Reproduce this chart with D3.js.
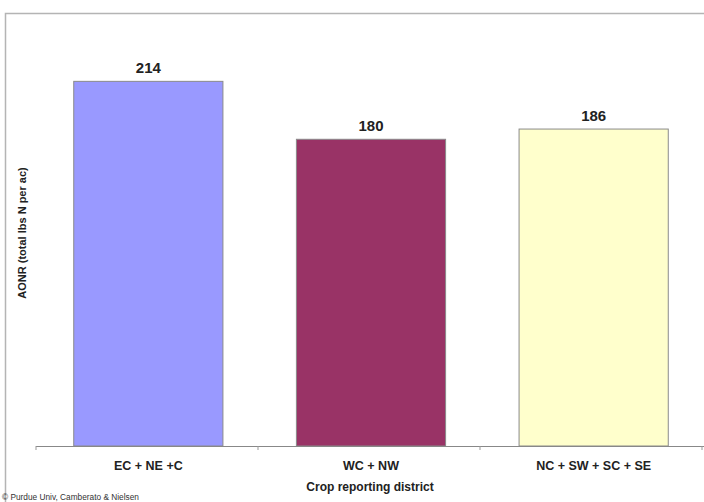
<!DOCTYPE html>
<html>
<head>
<meta charset="utf-8">
<script src="https://cdn.jsdelivr.net/npm/d3@7"></script>
<style>
  html, body { margin: 0; padding: 0; background: #fff; }
  svg { display: block; font-family: "Liberation Sans", Arial, sans-serif; }
</style>
</head>
<body>
<svg id="chart" width="704" height="502"></svg>
<script>
// Economic optimum N rate by grouped crop reporting districts
const districts = ["EC + NE +C", "WC + NW", "NC + SW + SC + SE"];
const aonr = [214, 180, 186];
const barColors = ["#9999FF", "#993366", "#FFFFCC"];
const yDomain = [0, 250];

const svg = d3.select("#chart");

// outer chart frame
svg.append("rect")
  .attr("x", 5.5).attr("y", 13.5)
  .attr("width", 720).attr("height", 520)
  .attr("fill", "none").attr("stroke", "#b4b4b4").attr("stroke-width", 1.5);

const plot = { left: 36, right: 704, top: 20, bottom: 446 };

const x = d3.scaleBand()
  .domain(districts)
  .range([plot.left + 1, plot.right + 1])
  .paddingInner(0.33).paddingOuter(0.165);

const y = d3.scaleLinear()
  .domain(yDomain)
  .range([plot.bottom, plot.top]);

// bars
svg.append("g").selectAll("rect")
  .data(districts)
  .join("rect")
  .attr("x", d => x(d))
  .attr("y", (d, i) => y(aonr[i]))
  .attr("width", x.bandwidth())
  .attr("height", (d, i) => y(0) - y(aonr[i]))
  .attr("fill", (d, i) => barColors[i])
  .attr("stroke", "#8a8a8a").attr("stroke-width", 1);

// value labels
svg.append("g").selectAll("text")
  .data(districts)
  .join("text")
  .attr("x", d => x(d) + x.bandwidth() / 2)
  .attr("y", (d, i) => y(aonr[i]) - 8)
  .attr("text-anchor", "middle")
  .attr("font-size", 15).attr("font-weight", "bold").attr("fill", "#222")
  .text((d, i) => aonr[i]);

// category axis with ticks between groups
const bounds = d3.range(districts.length + 1).map(i => plot.left + i * 222);
const axis = svg.append("g");
axis.append("line")
  .attr("x1", plot.left).attr("x2", plot.right)
  .attr("y1", plot.bottom + 0.5).attr("y2", plot.bottom + 0.5)
  .attr("stroke", "#888").attr("stroke-width", 1.2);
axis.selectAll("line.tick")
  .data(bounds)
  .join("line")
  .attr("class", "tick")
  .attr("x1", d => d).attr("x2", d => d)
  .attr("y1", plot.bottom).attr("y2", plot.bottom + 4)
  .attr("stroke", "#999");

axis.selectAll("text.cat")
  .data(districts)
  .join("text")
  .attr("class", "cat")
  .attr("x", d => x(d) + x.bandwidth() / 2)
  .attr("y", 470)
  .attr("text-anchor", "middle")
  .attr("font-size", 12.5).attr("font-weight", "bold").attr("fill", "#222")
  .text(d => d);

// axis titles
svg.append("text")
  .attr("x", 370).attr("y", 491)
  .attr("text-anchor", "middle")
  .attr("font-size", 12).attr("font-weight", "bold").attr("fill", "#222")
  .text("Crop reporting district");

svg.append("text")
  .attr("transform", "translate(26,233) rotate(-90)")
  .attr("text-anchor", "middle")
  .attr("font-size", 11).attr("font-weight", "bold").attr("fill", "#222")
  .text("AONR (total lbs N per ac)");

// credit line
svg.append("text")
  .attr("x", 2).attr("y", 500)
  .attr("font-size", 8.3).attr("fill", "#333")
  .text("© Purdue Univ, Camberato & Nielsen");
</script>
</body>
</html>
